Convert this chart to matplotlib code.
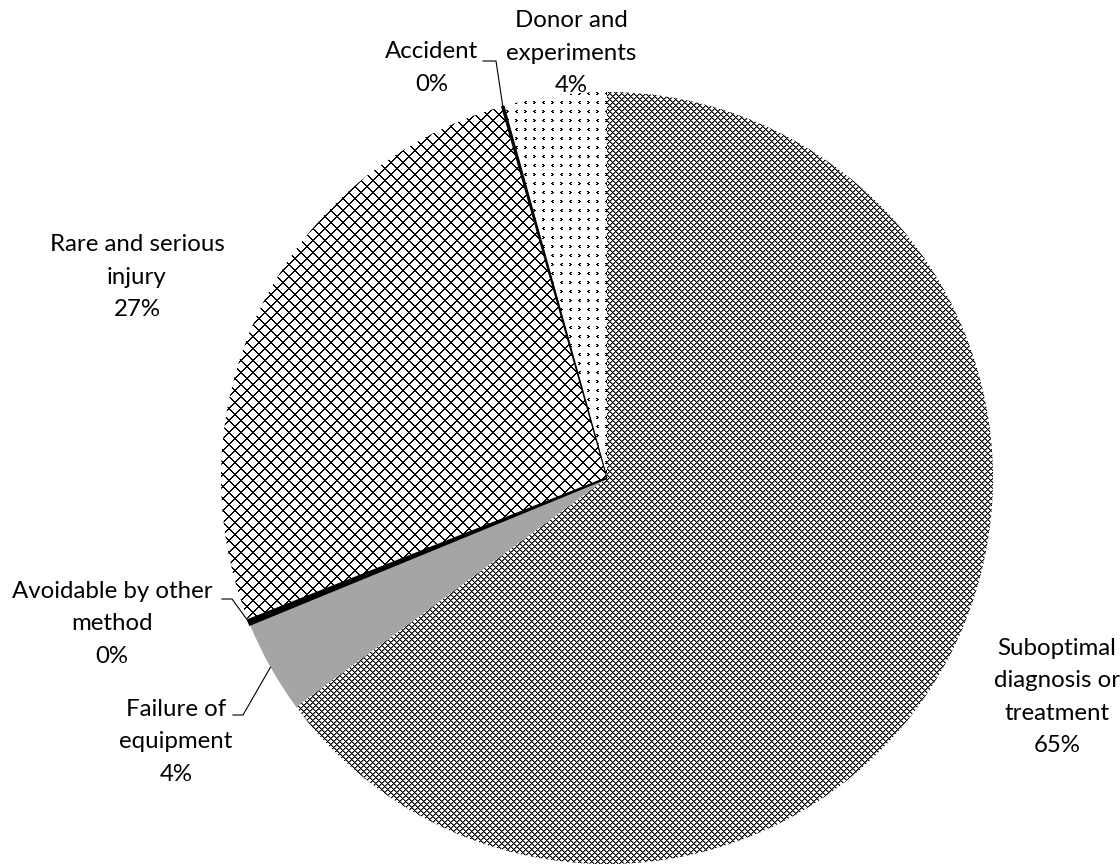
import numpy as np
import matplotlib
matplotlib.use("Agg")
import matplotlib.pyplot as plt

# Share of cases per cause (percent)
categories = [
    "Suboptimal\ndiagnosis or\ntreatment",
    "Failure of\nequipment",
    "Avoidable by other\nmethod",
    "Rare and serious\ninjury",
    "Accident",
    "Donor and\nexperiments",
]
shares = [64.9, 3.9, 0.2, 26.6, 0.1, 4.3]

W, H = 1120, 867
fig = plt.figure(figsize=(W / 100, H / 100), dpi=100)
ax = fig.add_axes([0, 0, 1, 1])

cx, cy, R = 607, H - 478, 386
wedges, _ = ax.pie(shares, startangle=90, counterclock=False, radius=R,
                   center=(cx, cy), explode=[0.01, 0, 0, 0, 0, 0])

# Pixel-space fill textures (1 = white, 0 = black)
yy, xx = np.mgrid[0:H, 0:W]


def dense_check():
    p = np.ones((H, W))
    a = (xx + yy) % 6
    b = (xx - yy) % 6
    p[(a == 1) | (b == 1)] = 0.45
    p[(a == 0) | (b == 0)] = 0.0
    return p


def lattice():
    p = np.ones((H, W))
    a = (xx + yy) % 12
    b = (xx - yy) % 12
    p[(a <= 1) | (b <= 1)] = 0.0
    return p


def chevrons():
    n = 18
    tile = np.ones((n, n))
    right = [(0, 0), (0, 1), (1, 1), (1, 2), (2, 0), (2, 1)]   # ">" marks
    left = [(0, 1), (0, 2), (1, 0), (1, 1), (2, 1), (2, 2)]    # "<" marks
    h = n // 2
    for (r, c) in right:
        tile[2 + r, 2 + c] = 0
        tile[2 + h + r, 2 + h + c] = 0
    for (r, c) in left:
        tile[2 + r, 2 + h + c] = 0
        tile[2 + h + r, 2 + c] = 0
    return np.tile(tile, (H // n + 1, W // n + 1))[:H, :W]


fills = {0: dense_check(), 3: lattice(), 5: chevrons()}

for i, w in enumerate(wedges):
    if i in fills:
        w.set_facecolor("none")
        w.set_edgecolor("none")
        im = ax.imshow(fills[i], cmap="gray", vmin=0, vmax=1,
                       extent=(0, W, 0, H), interpolation="nearest", zorder=0.5)
        im.set_clip_path(w)
    elif i == 1:
        w.set_facecolor("#a5a5a5")
        w.set_edgecolor("none")
    else:
        w.set_facecolor("black")
        w.set_edgecolor("black")
        w.set_linewidth(1.6 if i == 2 else 0.8)
    w.set_zorder(1)

label_pos = [(1057, 697), (176, 742), (112, 624), (137, 277), (432, 68), (571, 53)]
for cat, v, (lx, ly) in zip(categories, shares, label_pos):
    ax.text(lx, H - ly, f"{cat}\n{round(v):.0f}%", ha="center", va="center",
            multialignment="center", fontsize=17.3, family="Lato",
            linespacing=1.65, color="black", zorder=3)


def arc_point(w):
    t = np.deg2rad((w.theta1 + w.theta2) / 2)
    x0, y0 = w.center
    return x0 + w.r * np.cos(t), y0 + w.r * np.sin(t)


# Leader lines: label end -> short horizontal -> wedge rim
leaders = {4: [(483, 61), (496, 61)], 2: [(222, 599), (232, 599)], 1: [(233, 715), (243, 715)]}
for i, pts in leaders.items():
    px, py = arc_point(wedges[i])
    xs = [p[0] for p in pts] + [px]
    ys = [H - p[1] for p in pts] + [py]
    ax.plot(xs, ys, color="black", lw=0.8, zorder=2)

ax.set_xlim(0, W)
ax.set_ylim(0, H)
ax.axis("off")
fig.savefig("out.png", dpi=100, facecolor="white")
